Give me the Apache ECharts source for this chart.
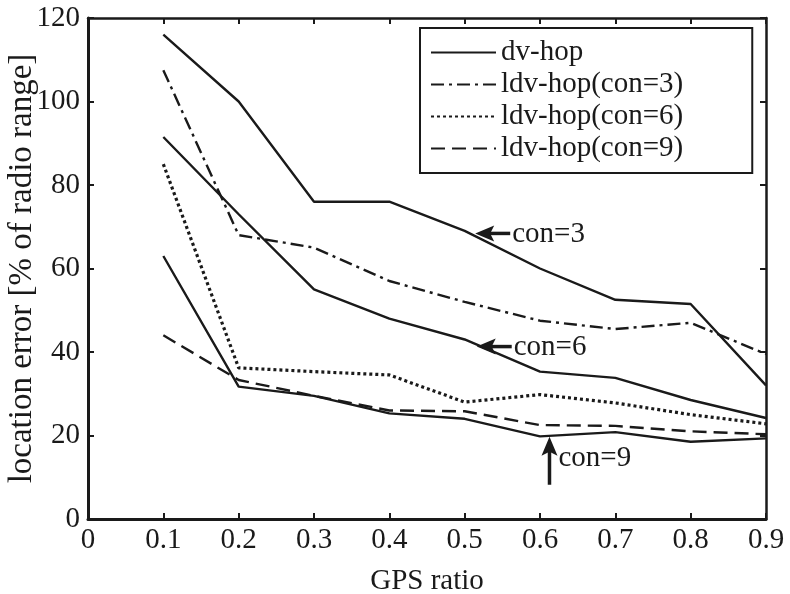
<!DOCTYPE html>
<html>
<head>
<meta charset="utf-8">
<script src="https://cdn.jsdelivr.net/npm/echarts@6/dist/echarts.min.js"></script>
<style>
  html, body { margin: 0; padding: 0; background: #fff; }
  #chart { width: 790px; height: 594px; }
</style>
</head>
<body>
<div id="chart"></div>
<script>
// GPS ratio on x, location error on y
var gpsRatio = [0.1, 0.2, 0.3, 0.4, 0.5, 0.6, 0.7, 0.8, 0.9];
var dvhopCon3 = [116, 100, 76, 76, 69, 60, 52.5, 51.5, 32];
var ldvhopCon3 = [107.5, 68, 65, 57, 52, 47.5, 45.5, 47, 39.5];
var dvhopCon6 = [91.5, 73, 55, 48, 43, 35.3, 33.8, 28.5, 24.2];
var ldvhopCon6 = [85, 36.2, 35.3, 34.5, 28, 29.8, 27.8, 25, 22.8];
var dvhopCon9 = [63, 31.7, 29.5, 25.3, 24, 19.8, 20.8, 18.5, 19.3];
var ldvhopCon9 = [44, 33.3, 29.5, 26, 25.8, 22.5, 22.3, 21, 20.3];

var xTicks = ['0', '0.1', '0.2', '0.3', '0.4', '0.5', '0.6', '0.7', '0.8', '0.9'];

// annotation arrows: [x, y] of tip, direction, label
var notes = [
    {tip: [0.514, 68.4], dir: 'left', text: 'con=3'},
    {tip: [0.516, 41.3], dir: 'left', text: 'con=6'},
    {tip: [0.6126, 19.7], dir: 'up', text: 'con=9'}
];

var FONT = '"Liberation Serif", "Times New Roman", serif';
var INK = '#1a1a1a';

function pairs(arr) {
    return gpsRatio.map(function (x, i) { return [x, arr[i]]; });
}

function lineSeries(name, arr, type, width) {
    return {
        name: name,
        type: 'line',
        data: pairs(arr),
        symbol: 'none',
        xAxisIndex: 0,
        yAxisIndex: 0,
        lineStyle: {color: INK, width: width || 2.4, type: type},
        itemStyle: {color: INK},
        animation: false
    };
}

var chart = echarts.init(document.getElementById('chart'));
chart.setOption({
    backgroundColor: '#fff',
    animation: false,
    grid: {left: 88, right: 24, top: 18, bottom: 75, containLabel: false, outerBoundsMode: 'none'},
    legend: {
        left: 420,
        top: 28,
        orient: 'vertical',
        data: ['dv-hop', 'ldv-hop(con=3)', 'ldv-hop(con=6)', 'ldv-hop(con=9)'],
        itemWidth: 65,
        itemHeight: 14,
        itemGap: 3,
        padding: [10, 69, 10, 10],
        borderColor: INK,
        borderWidth: 2,
        backgroundColor: '#fff',
        itemStyle: {opacity: 0},
        textStyle: {fontFamily: FONT, fontSize: 29, color: INK, lineHeight: 29},
        selectedMode: false
    },
    xAxis: [{
        type: 'value',
        min: 0, max: 0.9, interval: 0.1,
        name: 'GPS ratio',
        nameLocation: 'middle',
        nameGap: 48,
        nameMoveOverlap: false,
        nameTextStyle: {fontFamily: FONT, fontSize: 29, color: INK},
        axisLine: {show: true, onZero: false, lineStyle: {color: INK, width: 3}},
        axisTick: {show: true, inside: true, length: 6, lineStyle: {color: INK, width: 2}},
        axisLabel: {
            fontFamily: FONT, fontSize: 29, color: INK, margin: 7,
            formatter: function (v) { return xTicks[Math.round(v * 10)]; }
        },
        splitLine: {show: false}
    }, {
        type: 'value',
        position: 'top',
        min: 0, max: 0.9, interval: 0.1,
        axisLine: {show: true, onZero: false, lineStyle: {color: INK, width: 2.5}},
        axisTick: {show: true, inside: true, length: 6, lineStyle: {color: INK, width: 2}},
        axisLabel: {show: false},
        splitLine: {show: false}
    }],
    yAxis: [{
        type: 'value',
        min: 0, max: 120, interval: 20,
        name: 'location error [% of radio range]',
        nameLocation: 'middle',
        nameGap: 49,
        nameMoveOverlap: false,
        nameTextStyle: {fontFamily: FONT, fontSize: 33, color: INK},
        axisLine: {show: true, onZero: false, lineStyle: {color: INK, width: 3}},
        axisTick: {show: true, inside: true, length: 6, lineStyle: {color: INK, width: 2}},
        axisLabel: {fontFamily: FONT, fontSize: 29, color: INK, margin: 8},
        splitLine: {show: false}
    }, {
        type: 'value',
        position: 'right',
        min: 0, max: 120, interval: 20,
        axisLine: {show: true, onZero: false, lineStyle: {color: INK, width: 2.5}},
        axisTick: {show: true, inside: true, length: 6, lineStyle: {color: INK, width: 2}},
        axisLabel: {show: false},
        splitLine: {show: false}
    }],
    series: [
        lineSeries('dv-hop', dvhopCon3, 'solid'),
        lineSeries('ldv-hop(con=3)', ldvhopCon3, [13, 5, 3, 5]),
        lineSeries('ldv-hop(con=6)', ldvhopCon6, [3, 3], 3.2),
        lineSeries('ldv-hop(con=9)', ldvhopCon9, [14, 7]),
        lineSeries('dv-hop', dvhopCon6, 'solid'),
        lineSeries('dv-hop', dvhopCon9, 'solid')
    ]
});

// arrows + labels, placed through the chart's own scales
function buildNotes() {
    var elements = [];
    notes.forEach(function (n) {
        var p = chart.convertToPixel({gridIndex: 0}, n.tip);
        var head, shaft, label;
        if (n.dir === 'left') {
            head = [[p[0], p[1]], [p[0] + 19, p[1] - 8], [p[0] + 15, p[1]], [p[0] + 19, p[1] + 8]];
            shaft = {x1: p[0] + 14, y1: p[1], x2: p[0] + 35, y2: p[1]};
            label = {x: p[0] + 37, y: p[1] + 1};
        } else {
            head = [[p[0], p[1]], [p[0] - 8, p[1] + 19], [p[0], p[1] + 15], [p[0] + 8, p[1] + 19]];
            shaft = {x1: p[0], y1: p[1] + 14, x2: p[0], y2: p[1] + 48};
            label = {x: p[0] + 9, y: p[1] + 22};
        }
        elements.push({type: 'polygon', shape: {points: head}, style: {fill: INK}, z: 10});
        elements.push({type: 'line', shape: shaft, style: {stroke: INK, lineWidth: 3.5}, z: 10});
        elements.push({
            type: 'text', x: label.x, y: label.y, z: 10,
            style: {
                text: n.text, fill: INK, font: '29px ' + FONT,
                align: 'left', verticalAlign: 'middle'
            }
        });
    });
    chart.setOption({graphic: elements});
}
buildNotes();
</script>
</body>
</html>
